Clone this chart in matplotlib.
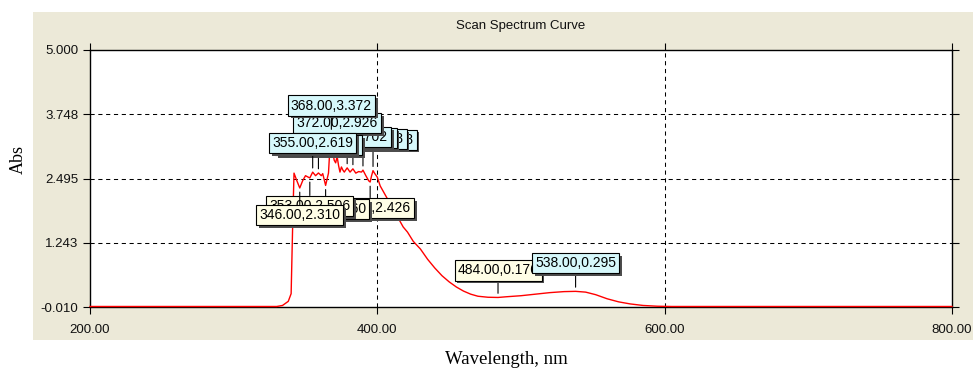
import matplotlib
matplotlib.use("Agg")
import matplotlib.pyplot as plt
import matplotlib.patheffects as pe
from matplotlib.patches import Rectangle

# spectrum (wavelength nm, absorbance)
wavelength = [200, 300, 330, 334, 338, 340, 341, 342, 344, 346, 348, 350, 352, 353,
              355, 357, 359, 361, 362, 364, 366, 367, 368, 369, 370, 371, 372, 373,
              374, 375, 376, 377, 379, 381, 383, 385, 387, 389, 390, 392, 394, 395,
              396, 397, 398, 400, 402, 404, 406, 408, 410, 412, 415, 418, 421, 425,
              430, 435, 440, 445, 450, 455, 460, 465, 470, 477, 484, 490, 500, 510,
              520, 530, 538, 545, 552, 560, 568, 576, 585, 595, 605, 700, 800]
absorbance = [0.0, 0.0, 0.0, 0.02, 0.10, 0.25, 1.50, 2.60, 2.45, 2.31, 2.45, 2.55, 2.52, 2.506,
              2.619, 2.55, 2.603, 2.55, 2.59, 2.36, 2.60, 3.10, 3.372, 3.00, 2.85, 2.80, 2.926, 2.75,
              2.62, 2.72, 2.66, 2.62, 2.702, 2.62, 2.683, 2.60, 2.63, 2.62, 2.658, 2.55, 2.45, 2.426,
              2.55, 2.648, 2.60, 2.52, 2.35, 2.25, 2.15, 2.05, 2.00, 1.90, 1.70, 1.55, 1.45, 1.27,
              1.12, 0.92, 0.75, 0.60, 0.48, 0.38, 0.30, 0.24, 0.20, 0.18, 0.176, 0.19, 0.21, 0.24,
              0.27, 0.29, 0.295, 0.28, 0.23, 0.15, 0.09, 0.05, 0.02, 0.005, 0.0, 0.0, 0.0]

# peak picks (cyan boxes) and valley picks (yellow boxes)
peak_wl  = [368, 355, 359, 372, 379, 383, 390, 397, 538]
peak_abs = [3.372, 2.619, 2.603, 2.926, 2.702, 2.683, 2.658, 2.648, 0.295]
valley_wl  = [346, 353, 364, 395, 484]
valley_abs = [2.310, 2.506, 2.360, 2.426, 0.176]

# label box offsets in pixels (positive = above the point)
peak_off   = [21, 22, 21, 26, 24, 24, 24, 24, 21]
valley_off = [-20, -21, -17, -19, 20]

yticks = [-0.010, 1.243, 2.495, 3.748, 5.000]
xticks = [200, 400, 600, 800]

W, H = 973, 370
fig = plt.figure(figsize=(W / 100, H / 100), dpi=100)
fig.patch.set_facecolor("white")

# grey window panel
fig.add_artist(Rectangle((33 / W, 1 - 340 / H), (W - 33) / W, (340 - 12) / H,
                         transform=fig.transFigure, facecolor="#ECE9D8",
                         edgecolor="none", zorder=0))

ax = fig.add_axes([90 / W, 1 - 307 / H, (952 - 90) / W, (307 - 50) / H])
ax.set_facecolor("white")
ax.set_xlim(200, 800)
ax.set_ylim(-0.010, 5.000)

tick_font = dict(family="Liberation Sans", size=9.5)
ax.set_xticks(xticks)
ax.set_xticklabels([f"{v:.2f}" for v in xticks], **tick_font)
ax.set_yticks(yticks)
ax.set_yticklabels([f"{v:.3f}" for v in yticks], **tick_font)
ax.tick_params(direction="out", length=5, width=0.8, color="black",
               top=True, right=True, labelcolor="#111111")
ax.tick_params(axis="x", pad=7.5)
ax.tick_params(axis="y", pad=3.5)
for s in ax.spines.values():
    s.set_linewidth(1.0)
    s.set_color("black")

for v in yticks[1:-1]:
    ax.axhline(v, color="black", lw=0.75, dashes=(4, 3.5), zorder=1)
for v in xticks[1:-1]:
    ax.axvline(v, color="black", lw=0.75, dashes=(4, 3.5), zorder=1)

ax.plot(wavelength, absorbance, color="#FF0000", lw=1.0, zorder=3,
        clip_on=False)


def pick_label(x, y, off, face, z):
    va = "bottom" if off > 0 else "top"
    t = ax.annotate(f"{x:.2f},{y:.3f}", xy=(x, y), xytext=(0, off),
                    textcoords="offset pixels", ha="center", va=va,
                    family="Liberation Sans", size=10, color="black",
                    bbox=dict(boxstyle="square,pad=0.22", facecolor=face,
                              edgecolor="black", lw=0.8),
                    arrowprops=dict(arrowstyle="-", color="black", lw=0.8,
                                    shrinkA=0, shrinkB=3),
                    zorder=z)
    t.get_bbox_patch().set_path_effects(
        [pe.SimplePatchShadow(offset=(2, -2), shadow_rgbFace="0.3", alpha=1),
         pe.Normal()])


n = len(peak_wl)
for i, (x, y, off) in enumerate(zip(peak_wl, peak_abs, peak_off)):
    pick_label(x, y, off, "#D6F8FB", 20 + n - i)
m = len(valley_wl)
for i, (x, y, off) in enumerate(zip(valley_wl, valley_abs, valley_off)):
    pick_label(x, y, off, "#FFFEE6", 10 + m - i)

fig.text(521 / W, 1 - 26 / H, "Scan Spectrum Curve", ha="center", va="center",
         family="Liberation Sans", size=9.5, color="#111111")
fig.text(18 / W, 1 - 160 / H, "Abs", rotation=90, ha="center", va="center",
         family="Liberation Serif", size=13)
fig.text(506 / W, 1 - 360 / H, "Wavelength, nm", ha="center", va="center",
         family="Liberation Serif", size=13.5)

fig.savefig("out.png", dpi=100)
